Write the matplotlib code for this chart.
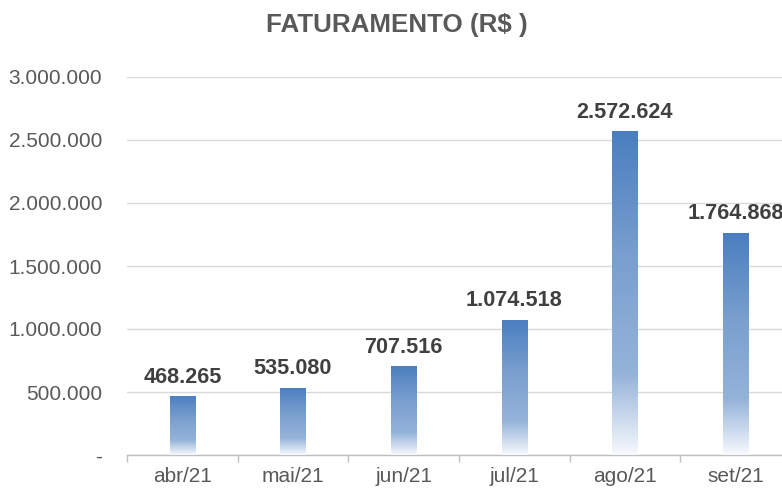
import matplotlib

matplotlib.use("Agg")
import matplotlib.pyplot as plt
import numpy as np
from matplotlib.colors import LinearSegmentedColormap
from matplotlib.ticker import FuncFormatter, FixedLocator

# Data
months = ["abr/21", "mai/21", "jun/21", "jul/21", "ago/21", "set/21"]
faturamento = [468265, 535080, 707516, 1074518, 2572624, 1764868]
y_ticks = [0, 500000, 1000000, 1500000, 2000000, 2500000, 3000000]


def br_fmt(v):
    if v == 0:
        return "-"
    return f"{int(round(v)):,}".replace(",", ".")


plt.rcParams["font.family"] = ["Liberation Sans", "DejaVu Sans"]

fig = plt.figure(figsize=(7.82, 4.88), dpi=100)
# axes run a little past the right edge, as in the original
ax = fig.add_axes([127 / 782, 33 / 488, (791 - 127) / 782, (455 - 77) / 488])

x = np.arange(len(months))
bars = ax.bar(x, faturamento, width=0.23, color="none", edgecolor="none", zorder=3)

# vertical gradient fill: white at the bottom, blue at the top
cmap = LinearSegmentedColormap.from_list(
    "fat", [(0.0, "#f7f9fd"), (0.25, "#94b3d9"), (0.6, "#7aa0cf"), (1.0, "#4a7ebf")]
)
grad = np.linspace(0, 1, 256).reshape(-1, 1)
for b in bars:
    x0, w, h = b.get_x(), b.get_width(), b.get_height()
    im = ax.imshow(
        grad, cmap=cmap, origin="lower", aspect="auto",
        extent=[x0, x0 + w, 0, h], zorder=3,
    )
    im.set_clip_path(b)

for xi, v in zip(x, faturamento):
    ax.annotate(
        br_fmt(v), (xi, v), xytext=(0, 6), textcoords="offset points",
        ha="center", va="bottom", fontsize=15.6, fontweight="bold",
        color="#404040", zorder=4, annotation_clip=False,
    )

ax.set_xlim(-0.5, len(months) - 0.5)
ax.set_ylim(0, 3000000)
ax.set_yticks(y_ticks)
ax.yaxis.set_major_formatter(FuncFormatter(lambda v, p: br_fmt(v)))
ax.set_xticks(x)
ax.set_xticklabels(months)
ax.xaxis.set_minor_locator(FixedLocator(np.arange(-0.5, len(months), 1.0)))

ax.tick_params(axis="y", length=0, pad=18, labelsize=15, labelcolor="#595959")
ax.tick_params(axis="x", which="major", length=0, pad=9, labelsize=15, labelcolor="#595959")
ax.tick_params(axis="x", which="minor", length=5, width=1, color="#bfbfbf")

ax.grid(axis="y", color="#d9d9d9", linewidth=1, zorder=0)
ax.set_axisbelow(True)
for side in ["top", "right", "left"]:
    ax.spines[side].set_visible(False)
ax.spines["bottom"].set_color("#bfbfbf")
ax.spines["bottom"].set_linewidth(1)

fig.text(397 / 782, 1 - 25 / 488, "FATURAMENTO (R$ )", ha="center", va="center",
         fontsize=18.7, fontweight="bold", color="#595959")

fig.savefig("out.png", dpi=100)
